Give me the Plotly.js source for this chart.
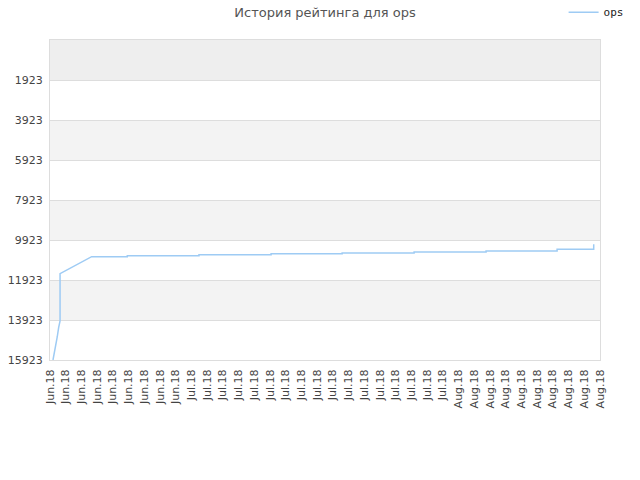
<!DOCTYPE html>
<html>
<head>
<meta charset="utf-8">
<script src="https://cdn.plot.ly/plotly-3.0.1.min.js"></script>
<style>html,body{margin:0;padding:0;background:#fff}#chart{width:640px;height:480px}</style>
</head>
<body>
<div id="chart"></div>
<script>
// Tick labels along the x axis (one per category slot)
const xLabels = [
  "Jun.18","Jun.18","Jun.18","Jun.18","Jun.18","Jun.18","Jun.18","Jun.18","Jun.18",
  "Jul.18","Jul.18","Jul.18","Jul.18","Jul.18","Jul.18","Jul.18","Jul.18","Jul.18",
  "Jul.18","Jul.18","Jul.18","Jul.18","Jul.18","Jul.18","Jul.18","Jul.18",
  "Aug.18","Aug.18","Aug.18","Aug.18","Aug.18","Aug.18","Aug.18","Aug.18","Aug.18","Aug.18"
];
// Rating history for "ops" (position along the x slots, rating)
const opsX = [0.19, 0.30, 0.38, 0.46, 0.55, 0.64, 0.64, 2.65, 4.92, 4.92, 9.48, 9.48, 14.07, 14.07, 18.59, 18.59, 23.17, 23.17, 27.75, 27.75, 32.27, 32.27, 34.6, 34.6];
const opsY = [15923, 15508, 15123, 14773, 14308, 13973, 11608, 10758, 10758, 10708, 10708, 10663, 10663, 10613, 10613, 10573, 10573, 10523, 10523, 10473, 10473, 10388, 10388, 10138];
// Y axis ticks
const yTicks = [1923, 3923, 5923, 7923, 9923, 11923, 13923, 15923];
const yTop = -77;

const xTickVals = xLabels.map((_, i) => i);

// alternating bands between y ticks
const shapes = [];
shapes.push({type:'rect', xref:'paper', yref:'y', x0:0, x1:1, y0:yTop, y1:yTicks[0], fillcolor:'#eeeeee', line:{width:0}, layer:'below'});
for (let k = 1; k < yTicks.length - 1; k += 2) {
  shapes.push({type:'rect', xref:'paper', yref:'y', x0:0, x1:1, y0:yTicks[k], y1:yTicks[k+1], fillcolor:'#f3f3f3', line:{width:0}, layer:'below'});
}

const data = [{
  x: opsX, y: opsY, type:'scatter', mode:'lines', name:'ops',
  line:{color:'#9ecbf4', width:1.5}
}];

const layout = {
  width:640, height:480,
  margin:{l:50, r:40, t:40, b:120, autoexpand:false},
  paper_bgcolor:'#ffffff', plot_bgcolor:'#ffffff',
  font:{family:'DejaVu Sans, sans-serif', size:11, color:'#444'},
  title:{text:'История рейтинга для ops', x:0.5, xref:'paper', y:0.975, yanchor:'middle', font:{family:'DejaVu Sans, sans-serif', size:13, color:'#555'}},
  showlegend:true,
  legend:{x:1.052, xanchor:'right', y:1.087, yanchor:'middle', orientation:'h', itemwidth:30, font:{family:'DejaVu Sans Mono, monospace', size:11, color:'#222'}, bgcolor:'rgba(0,0,0,0)'},
  xaxis:{
    range:[0, xLabels.length - 1], tickmode:'array', tickvals:xTickVals, ticktext:xLabels,
    tickangle:-90, showgrid:false, zeroline:false, showline:true, mirror:true, linecolor:'#dddddd', linewidth:1,
    ticks:'', ticklabelstandoff:4, tickfont:{size:11, color:'#444'}, fixedrange:true
  },
  yaxis:{
    range:[yTicks[yTicks.length-1], yTop], tickmode:'array', tickvals:yTicks, ticktext:yTicks.map(String),
    showgrid:true, gridcolor:'#dddddd', gridwidth:1, zeroline:false, showline:true, mirror:true, linecolor:'#dddddd', linewidth:1,
    ticks:'', ticklabelstandoff:4, tickfont:{size:11, color:'#444'}, fixedrange:true
  },
  shapes: shapes
};

Plotly.newPlot('chart', data, layout, {displayModeBar:false, staticPlot:true});
</script>
</body>
</html>
